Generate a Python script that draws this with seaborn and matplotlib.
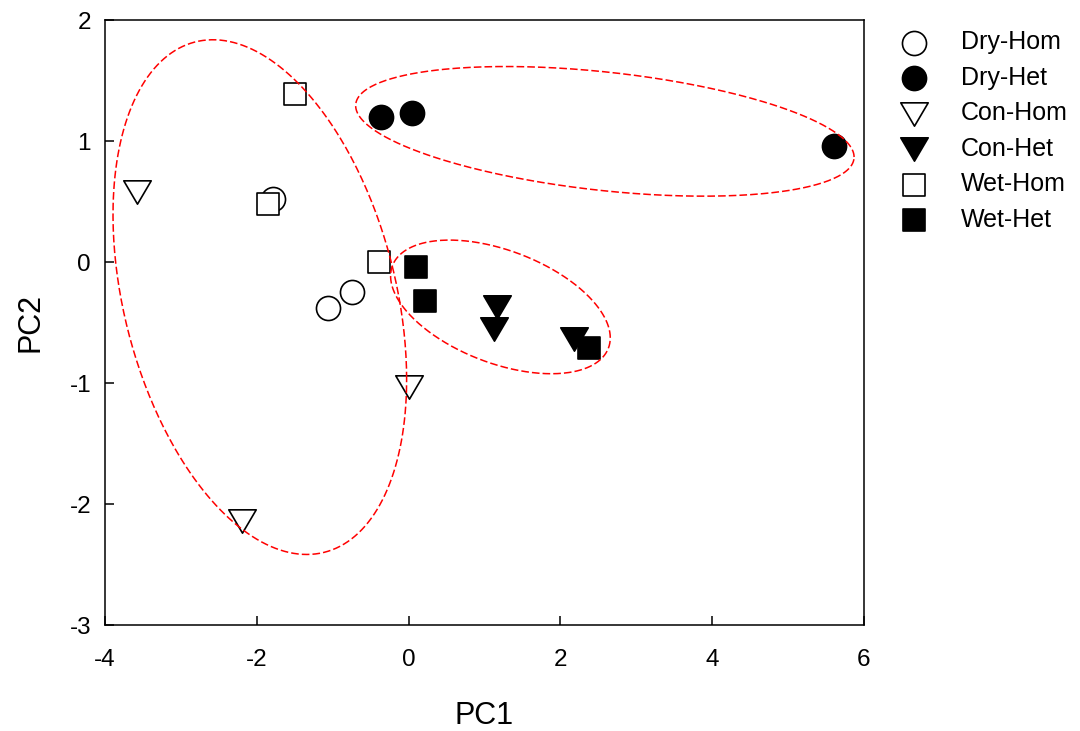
import numpy as np
import pandas as pd
import matplotlib
matplotlib.use('Agg')
import matplotlib.pyplot as plt
from matplotlib.path import Path
import seaborn as sns

# Datos (PC1, PC2)
grupos = ['Dry-Hom', 'Dry-Het', 'Con-Hom', 'Con-Het', 'Wet-Hom', 'Wet-Het']
dryHomX = [-1.79, -0.75, -1.06]
dryHomY = [0.52, -0.25, -0.38]
dryHetX = [-0.36, 0.04, 5.61]
dryHetY = [1.20, 1.23, 0.96]
conHomX = [-3.58, 0.01, -2.19]
conHomY = [0.58, -1.03, -2.14]
conHetX = [1.17, 1.13, 2.18]
conHetY = [-0.37, -0.55, -0.64]
wetHomX = [-1.49, -1.85, -0.39]
wetHomY = [1.39, 0.48, 0.00]
wetHetX = [0.10, 0.21, 2.38]
wetHetY = [-0.04, -0.32, -0.71]

# Elipses: centro x, centro y, var x, var y, cov xy
elipseCx = [-1.96, 2.586, 1.21]
elipseCy = [-0.29, 1.08, -0.371]
elipseSxx = [3.741, 10.78, 2.094]
elipseSyy = [4.524, 0.287, 0.305]
elipseSxy = [-1.315, -0.697, -0.370]

xs = [dryHomX, dryHetX, conHomX, conHetX, wetHomX, wetHetX]
ys = [dryHomY, dryHetY, conHomY, conHetY, wetHomY, wetHetY]
df = pd.DataFrame({
    'grupo': np.repeat(grupos, 3),
    'PC1': np.concatenate(xs),
    'PC2': np.concatenate(ys),
})

triangulo = Path([(-1, 0.85), (1, 0.85), (0, -0.85), (-1, 0.85)],
                 [Path.MOVETO, Path.LINETO, Path.LINETO, Path.CLOSEPOLY])
estilos = {
    'Dry-Hom': ('o', 'white', 300),
    'Dry-Het': ('o', 'black', 300),
    'Con-Hom': (triangulo, 'white', 390),
    'Con-Het': (triangulo, 'black', 390),
    'Wet-Hom': ('s', 'white', 250),
    'Wet-Het': ('s', 'black', 250),
}

sns.set_style('white')
plt.rcParams['font.family'] = ['Liberation Sans', 'DejaVu Sans']
plt.rcParams['axes.unicode_minus'] = False
plt.rcParams['text.color'] = 'black'
plt.rcParams['axes.labelcolor'] = 'black'

fig = plt.figure(figsize=(10.8, 7.31), dpi=100)
ax = fig.add_axes([0.0972, 0.145, 0.7028, 0.8276])

for g in grupos:
    marker, color, size = estilos[g]
    sns.scatterplot(data=df[df['grupo'] == g], x='PC1', y='PC2', marker=marker,
                    s=size, color=color, edgecolor='black', linewidth=1.2,
                    label=g, ax=ax, zorder=3, legend=False)

# elipses punteadas
t = np.linspace(0, 2 * np.pi, 400)
for cx, cy, sxx, syy, sxy in zip(elipseCx, elipseCy, elipseSxx, elipseSyy, elipseSxy):
    L = np.linalg.cholesky(np.array([[sxx, sxy], [sxy, syy]]))
    pts = L @ np.vstack([np.cos(t), np.sin(t)])
    ax.plot(cx + pts[0], cy + pts[1], color='#ff0000', lw=1.1,
            ls=(0, (5, 2)), zorder=4)

ax.set_xlim(-4, 6)
ax.set_ylim(-3, 2)
ax.set_xticks([-4, -2, 0, 2, 4, 6])
ax.set_yticks([-3, -2, -1, 0, 1, 2])
ax.set_xlabel('PC1', fontsize=22, labelpad=22)
ax.set_ylabel('PC2', fontsize=22, labelpad=17)
ax.tick_params(bottom=True, left=True, direction='in', length=6.5, width=1.1,
               labelsize=17.5, colors='black')
ax.tick_params(axis='x', pad=17)
ax.tick_params(axis='y', pad=10)
for sp in ax.spines.values():
    sp.set_color('black')
    sp.set_linewidth(1.1)

handles, labels = ax.get_legend_handles_labels()
fig.legend(handles, labels, loc='upper left', bbox_to_anchor=(0.825, 0.972),
           bbox_transform=fig.transFigure, frameon=False, fontsize=18,
           handlelength=1.0, handletextpad=1.4, labelspacing=0.46,
           borderaxespad=0, scatterpoints=1)

fig.savefig('out.png', dpi=100)
